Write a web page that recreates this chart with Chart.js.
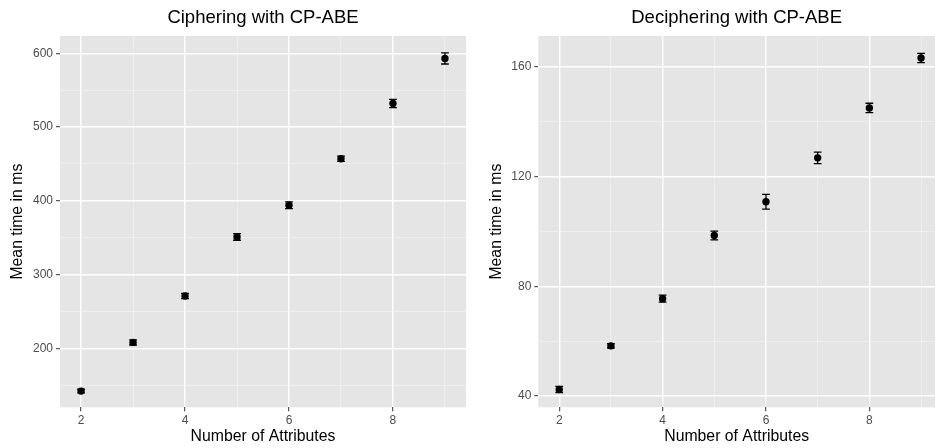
<!DOCTYPE html>
<html>
<head>
<meta charset="utf-8">
<script src="https://cdn.jsdelivr.net/npm/chart.js@4/dist/chart.umd.min.js"></script>
<style>
  html, body { margin: 0; padding: 0; background: #fff; overflow: hidden; }
  .panel { position: absolute; top: 0; height: 448px; }
</style>
</head>
<body>
<div class="panel" style="left:0;width:470px"><canvas id="cipher"></canvas></div>
<div class="panel" style="left:470px;width:469px"><canvas id="decipher"></canvas></div>
<script>
// number of attributes on the x axis
const attributes = [2, 3, 4, 5, 6, 7, 8, 9];

// ciphering: mean time (ms) and error half-width
const cipherMean = [142, 208, 271, 351, 394, 457, 532, 593];
const cipherErr = [2.5, 3.5, 3.5, 4.5, 4.5, 3.5, 5.5, 7.5];

// deciphering: mean time (ms) and error half-width
const decipherMean = [42.4, 58.3, 75.5, 98.5, 110.8, 126.8, 145.0, 163.2];
const decipherErr = [1.1, 0.8, 1.3, 1.6, 2.7, 2.1, 1.7, 1.7];

const xTicks = [2, 4, 6, 8];
const cipherYTicks = [200, 300, 400, 500, 600];
const decipherYTicks = [40, 80, 120, 160];

const FONT = "'Liberation Sans', Arial, Helvetica, sans-serif";
const PANEL_BG = "#E5E5E5";

// grey panel behind the plot area
const panelBg = {
  id: "panelBg",
  beforeDraw(chart) {
    const { ctx, chartArea: a } = chart;
    ctx.save();
    ctx.fillStyle = PANEL_BG;
    ctx.fillRect(a.left, a.top, a.right - a.left, a.bottom - a.top);
    ctx.restore();
  },
};

// vertical error bars with small caps, drawn under the points
const errorBars = {
  id: "errorBars",
  beforeDatasetsDraw(chart) {
    const { ctx, scales } = chart;
    const errs = chart.options.plugins.errorBars.errors;
    ctx.save();
    ctx.strokeStyle = "#000";
    ctx.lineWidth = 1.3;
    chart.data.datasets[0].data.forEach((p, i) => {
      const x = scales.x.getPixelForValue(p.x);
      const x0 = scales.x.getPixelForValue(p.x - 0.075);
      const x1 = scales.x.getPixelForValue(p.x + 0.075);
      const yLo = scales.y.getPixelForValue(p.y - errs[i]);
      const yHi = scales.y.getPixelForValue(p.y + errs[i]);
      ctx.beginPath();
      ctx.moveTo(x, yLo);
      ctx.lineTo(x, yHi);
      ctx.moveTo(x0, yLo);
      ctx.lineTo(x1, yLo);
      ctx.moveTo(x0, yHi);
      ctx.lineTo(x1, yHi);
      ctx.stroke();
    });
    ctx.restore();
  },
};

const buildChart = (canvasId, cfg) => {
  const ctx = document.getElementById(canvasId).getContext("2d");
  const isMajorX = (v) => xTicks.includes(v);
  const isMajorY = (v) => cfg.yTicks.includes(v);

  return new Chart(ctx, {
    type: "scatter",
    data: {
      datasets: [
        {
          data: attributes.map((a, i) => ({ x: a, y: cfg.means[i] })),
          backgroundColor: "#000",
          borderWidth: 0,
          pointRadius: 3.7,
        },
      ],
    },
    options: {
      responsive: true,
      maintainAspectRatio: false,
      animation: false,
      events: [],
      layout: { padding: { top: 0, right: cfg.padRight, bottom: 0, left: 0 } },
      scales: {
        x: {
          type: "linear",
          min: 1.595,
          max: cfg.xMax,
          afterFit: (s) => { s.height = 40.7; },
          border: { display: false },
          grid: {
            color: (c) => (isMajorX(c.tick.value) ? "#FFFFFF" : "#F4F4F4"),
            lineWidth: (c) => (isMajorX(c.tick.value) ? 1.4 : 0.7),
            tickColor: (c) => (isMajorX(c.tick.value) ? "#333333" : "rgba(0,0,0,0)"),
            tickLength: 4,
            tickWidth: 1,
          },
          ticks: {
            stepSize: 1,
            includeBounds: false,
            autoSkip: false,
            maxRotation: 0,
            padding: 2,
            color: "#4D4D4D",
            font: { family: FONT, size: 12 },
            callback: (v) => (isMajorX(v) ? String(v) : ""),
          },
          title: {
            display: true,
            text: "Number of Attributes",
            color: "#000",
            font: { family: FONT, size: 15.8 },
            padding: { top: 0, bottom: 1.5 },
          },
        },
        y: {
          type: "linear",
          min: cfg.yMin,
          max: cfg.yMax,
          afterFit: (s) => { s.width = cfg.yWidth; },
          border: { display: false },
          grid: {
            color: (c) => (isMajorY(c.tick.value) ? "#FFFFFF" : "#F4F4F4"),
            lineWidth: (c) => (isMajorY(c.tick.value) ? 1.4 : 0.7),
            tickColor: (c) => (isMajorY(c.tick.value) ? "#333333" : "rgba(0,0,0,0)"),
            tickLength: 4,
            tickWidth: 1,
          },
          ticks: {
            stepSize: cfg.yStep,
            includeBounds: false,
            autoSkip: false,
            padding: 3,
            color: "#4D4D4D",
            font: { family: FONT, size: 12 },
            callback: (v) => (isMajorY(v) ? String(v) : ""),
          },
          title: {
            display: true,
            text: "Mean time in ms",
            color: "#000",
            font: { family: FONT, size: 15.8 },
            padding: { top: cfg.yTitlePad, bottom: 0 },
          },
        },
      },
      plugins: {
        legend: { display: false },
        tooltip: { enabled: false },
        title: {
          display: true,
          text: cfg.title,
          fullSize: false,
          color: "#000",
          font: { family: FONT, size: 18.5, weight: "normal" },
          padding: { top: 6.9, bottom: 6.9 },
        },
        errorBars: { errors: cfg.errors },
      },
    },
    plugins: [panelBg, errorBars],
  });
};

buildChart("cipher", {
  title: "Ciphering with CP-ABE",
  means: cipherMean,
  errors: cipherErr,
  yTicks: cipherYTicks,
  yMin: 120,
  yMax: 623.5,
  yStep: 50,
  yWidth: 60,
  yTitlePad: 8.5,
  xMax: 9.405,
  padRight: 1.7,
});

buildChart("decipher", {
  title: "Deciphering with CP-ABE",
  means: decipherMean,
  errors: decipherErr,
  yTicks: decipherYTicks,
  yMin: 35.9,
  yMax: 171.2,
  yStep: 20,
  yWidth: 68.3,
  yTitlePad: 17.2,
  xMax: 9.27,
  padRight: 0,
});
</script>
</body>
</html>
